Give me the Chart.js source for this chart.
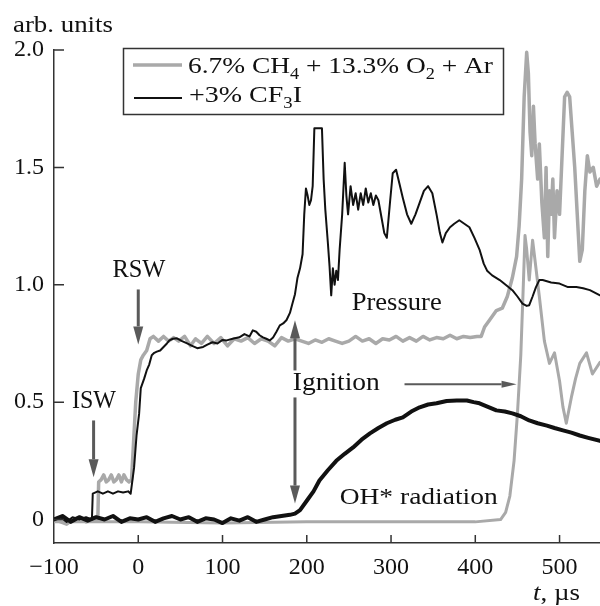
<!DOCTYPE html>
<html>
<head>
<meta charset="utf-8">
<script src="https://cdn.jsdelivr.net/npm/chart.js@4.4.1/dist/chart.umd.min.js"></script>
<style>
  html, body { margin: 0; padding: 0; background: #fff; }
  #chart { display: block; }
</style>
</head>
<body>
<canvas id="chart" width="600" height="606"></canvas>
<script>
// axis ticks
var timeTicks = [-100, 0, 100, 200, 300, 400, 500];
var valueTicks = [0, 0.5, 1.0, 1.5, 2.0];

// pressure, 6.7% CH4 + 13.3% O2 + Ar
var grayPressureT = [-100, -92, -85, -78, -70, -62, -55, -48, -47, -44,
    -41, -38, -35, -32, -29, -26, -23, -20, -17, -14,
    -11, -8, -6, -3, 0, 3, 6, 10, 14, 18,
    24, 30, 36, 42, 48, 55, 62, 68, 75, 82,
    90, 98, 106, 114, 122, 130, 138, 146, 154, 162,
    170, 178, 186, 194, 202, 210, 218, 226, 234, 242,
    250, 258, 266, 274, 282, 290, 298, 306, 314, 322,
    330, 338, 346, 354, 362, 370, 378, 386, 394, 402,
    407, 411, 417, 425, 432, 438, 444, 449, 452, 455,
    458, 461, 463, 465, 467, 469, 471, 474, 476, 479,
    482, 484, 486, 488, 490, 492, 494, 497, 500, 503,
    506, 509, 512, 515, 518, 521, 524, 527, 530, 533,
    536, 540, 544, 548];
var grayPressureV = [0.00, -0.01, -0.02, 0.00, 0.01, -0.01, 0.00, 0.00, 0.16, 0.17,
    0.19, 0.16, 0.17, 0.19, 0.16, 0.17, 0.19, 0.16, 0.19, 0.17,
    0.16, 0.17, 0.30, 0.50, 0.62, 0.68, 0.70, 0.72, 0.77, 0.78,
    0.76, 0.78, 0.76, 0.775, 0.76, 0.78, 0.74, 0.77, 0.75, 0.78,
    0.75, 0.775, 0.74, 0.77, 0.76, 0.775, 0.75, 0.77, 0.76, 0.74,
    0.775, 0.76, 0.77, 0.76, 0.75, 0.765, 0.755, 0.77, 0.76, 0.75,
    0.76, 0.78, 0.76, 0.77, 0.75, 0.77, 0.765, 0.78, 0.76, 0.775,
    0.76, 0.78, 0.765, 0.775, 0.77, 0.785, 0.77, 0.78, 0.775, 0.78,
    0.78, 0.82, 0.85, 0.89, 0.90, 0.95, 1.03, 1.12, 1.25, 1.45,
    1.80, 1.99, 1.90, 1.65, 1.55, 1.76, 1.60, 1.45, 1.60, 1.35,
    1.20, 1.50, 1.12, 1.40, 1.30, 1.45, 1.20, 1.40, 1.30, 1.55,
    1.80, 1.82, 1.80, 1.65, 1.50, 1.30, 1.10, 1.15, 1.40, 1.55,
    1.48, 1.50, 1.42, 1.45];

// pressure, +3% CF3I
var blackPressureT = [-100, -92, -85, -78, -70, -62, -55, -54, -48, -42,
    -36, -30, -24, -18, -12, -9, -5, -2, 1, 3,
    7, 10, 13, 16, 19, 22, 26, 30, 34, 37,
    41, 46, 52, 58, 64, 70, 77, 82, 88, 94,
    100, 105, 112, 120, 126, 132, 136, 140, 144, 148,
    152, 156, 160, 164, 168, 172, 176, 180, 183, 186,
    189, 192, 195, 197, 199, 201, 203, 205, 207, 209,
    213, 218, 220, 222, 225, 227, 229, 231, 233, 235,
    237, 239, 242, 245, 247, 249, 252, 255, 258, 261,
    264, 267, 270, 273, 276, 279, 282, 285, 289, 292,
    295, 299, 302, 306, 310, 314, 319, 324, 329, 334,
    339, 344, 349, 354, 358, 361, 365, 370, 375, 381,
    387, 393, 399, 405, 410, 414, 420, 429, 436, 444,
    450, 456, 461, 464, 468, 472, 476, 480, 490, 500,
    510, 520, 528, 536, 548];
var blackPressureV = [0.00, 0.01, -0.01, 0.01, 0.00, 0.01, 0.00, 0.11, 0.12, 0.11,
    0.12, 0.11, 0.12, 0.115, 0.12, 0.11, 0.22, 0.36, 0.45, 0.56,
    0.60, 0.635, 0.66, 0.70, 0.71, 0.715, 0.72, 0.735, 0.75, 0.763,
    0.77, 0.772, 0.76, 0.75, 0.74, 0.73, 0.735, 0.745, 0.755, 0.75,
    0.765, 0.763, 0.77, 0.776, 0.79, 0.78, 0.806, 0.80, 0.785, 0.776,
    0.77, 0.763, 0.775, 0.80, 0.827, 0.835, 0.85, 0.88, 0.92, 0.96,
    1.03, 1.07, 1.13, 1.30, 1.41, 1.38, 1.34, 1.36, 1.42, 1.667,
    1.667, 1.667, 1.45, 1.32, 1.18, 1.08, 0.955, 1.07, 1.00, 1.06,
    1.02, 1.15, 1.30, 1.52, 1.38, 1.30, 1.42, 1.34, 1.39, 1.32,
    1.39, 1.34, 1.41, 1.35, 1.39, 1.34, 1.38, 1.36, 1.28, 1.22,
    1.20, 1.36, 1.475, 1.49, 1.43, 1.37, 1.30, 1.26, 1.30, 1.35,
    1.40, 1.42, 1.39, 1.30, 1.22, 1.18, 1.22, 1.245, 1.26, 1.275,
    1.26, 1.245, 1.20, 1.15, 1.09, 1.06, 1.04, 1.02, 1.00, 0.977,
    0.95, 0.92, 0.91, 0.913, 0.95, 0.99, 1.02, 1.02, 1.01, 1.005,
    0.99, 0.99, 0.985, 0.977, 0.955];

// OH* radiation, 6.7% CH4 + 13.3% O2 + Ar
var grayOhT = [-100, 0, 100, 200, 300, 400, 430, 436, 441, 446,
    450, 454, 457, 459, 461, 464, 468, 471, 476, 482,
    488, 494, 500, 504, 508, 514, 519, 524, 532, 539,
    548];
var grayOhV = [-0.01, -0.01, -0.015, -0.01, -0.01, -0.01, 0.0, 0.03, 0.10, 0.25,
    0.45, 0.70, 1.00, 1.21, 1.15, 1.02, 1.19, 1.10, 0.95, 0.76,
    0.665, 0.71, 0.59, 0.48, 0.41, 0.52, 0.60, 0.665, 0.71, 0.62,
    0.67];

// OH* radiation, +3% CF3I
var blackOhT = [-100, -90, -80, -70, -60, -50, -40, -30, -20, -10,
    0, 10, 20, 30, 40, 50, 60, 70, 80, 90,
    100, 110, 120, 130, 140, 150, 160, 170, 180, 186,
    192, 200, 208, 215, 225, 235, 245, 255, 265, 275,
    285, 295, 305, 314, 324, 334, 344, 354, 366, 378,
    390, 398, 405, 415, 425, 435, 444, 454, 464, 474,
    485, 494, 504, 514, 524, 534, 548];
var blackOhV = [0.0, 0.015, -0.01, 0.01, -0.005, 0.01, 0.0, 0.015, -0.01, 0.005,
    0.0, 0.01, -0.01, 0.005, 0.015, 0.0, 0.01, -0.01, 0.005, 0.0,
    -0.015, 0.005, -0.005, 0.01, -0.01, 0.0, 0.01, 0.015, 0.02, 0.025,
    0.04, 0.08, 0.12, 0.166, 0.21, 0.25, 0.28, 0.307, 0.34, 0.367,
    0.39, 0.41, 0.425, 0.435, 0.46, 0.478, 0.49, 0.495, 0.505, 0.507,
    0.507, 0.50, 0.495, 0.48, 0.465, 0.46, 0.452, 0.44, 0.422, 0.41,
    0.40, 0.39, 0.38, 0.37, 0.358, 0.348, 0.335];

var SERIF = '"Liberation Serif", "Times New Roman", Times, serif';
var GRAY = '#a9a9a9';
var BLACK = '#111';
var ARROW = '#5a5a5a';

function zip(t, v) {
    return t.map(function (x, i) { return { x: x, y: v[i] }; });
}

// draw text runs [text, sub?, italic?] stretched to a given width
function wideText(ctx, runs, x, y, size, width, align) {
    ctx.save();
    var font = function (r) {
        return (r[2] ? 'italic ' : '') + (r[1] ? Math.round(size * 0.68) : size) + 'px ' + SERIF;
    };
    var natural = 0;
    runs.forEach(function (r) { ctx.font = font(r); natural += ctx.measureText(r[0]).width; });
    var k = width ? width / natural : 1;
    var x0 = align === 'center' ? x - natural * k / 2 : x;
    ctx.translate(x0, y);
    ctx.scale(k, 1);
    ctx.fillStyle = BLACK;
    ctx.textBaseline = 'alphabetic';
    var cx = 0;
    runs.forEach(function (r) {
        ctx.font = font(r);
        ctx.fillText(r[0], cx, r[1] ? size * 0.25 : 0);
        cx += ctx.measureText(r[0]).width;
    });
    ctx.restore();
}

function arrow(ctx, x1, y1, x2, y2, shaft, headLen, headW) {
    var a = Math.atan2(y2 - y1, x2 - x1);
    var bx = x2 - headLen * Math.cos(a), by = y2 - headLen * Math.sin(a);
    ctx.strokeStyle = ARROW;
    ctx.fillStyle = ARROW;
    ctx.lineWidth = shaft;
    ctx.beginPath();
    ctx.moveTo(x1, y1);
    ctx.lineTo(bx, by);
    ctx.stroke();
    ctx.beginPath();
    ctx.moveTo(x2, y2);
    ctx.lineTo(bx + headW / 2 * Math.sin(a), by - headW / 2 * Math.cos(a));
    ctx.lineTo(bx - headW / 2 * Math.sin(a), by + headW / 2 * Math.cos(a));
    ctx.closePath();
    ctx.fill();
}

// labels and arrows placed in data units
var notes = {
    rsw: { x: 0.8, y: 1.032 },
    rswArrow: { x: 0, y1: 0.98, y2: 0.746 },
    isw: { x: -52.6, y: 0.473 },
    iswArrow: { x: -53, y1: 0.422, y2: 0.18 },
    ignUp: { x: 186, y1: 0.635, y2: 0.849 },
    ignDown: { x: 186, y1: 0.52, y2: 0.068 },
    ignition: { x: 183.4, y: 0.55 },
    ignArrow: { y: 0.576, x1: 316, x2: 449 },
    pressure: { x: 306.7, y: 0.891 },
    oh: { x: 332.8, y: 0.064 }
};

var decorPlugin = {
    id: 'decor',
    afterDraw: function (chart) {
        var ctx = chart.ctx;
        var a = chart.chartArea;
        var sx = chart.scales.x, sy = chart.scales.y;
        var X = function (v) { return sx.getPixelForValue(v); };
        var Y = function (v) { return sy.getPixelForValue(v); };

        ctx.save();
        // inward tick marks
        ctx.strokeStyle = '#333';
        ctx.lineWidth = 1.5;
        ctx.beginPath();
        valueTicks.forEach(function (v) {
            ctx.moveTo(a.left, Y(v));
            ctx.lineTo(a.left + 10, Y(v));
        });
        timeTicks.forEach(function (v) {
            if (v === timeTicks[0]) return;
            ctx.moveTo(X(v), a.bottom);
            ctx.lineTo(X(v), a.bottom - 8);
        });
        ctx.stroke();

        // arrows
        arrow(ctx, X(notes.rswArrow.x), Y(notes.rswArrow.y1), X(notes.rswArrow.x), Y(notes.rswArrow.y2), 3, 18, 10);
        arrow(ctx, X(notes.iswArrow.x), Y(notes.iswArrow.y1), X(notes.iswArrow.x), Y(notes.iswArrow.y2), 3, 18, 10);
        arrow(ctx, X(notes.ignUp.x), Y(notes.ignUp.y1), X(notes.ignUp.x), Y(notes.ignUp.y2), 3, 18, 10);
        arrow(ctx, X(notes.ignDown.x), Y(notes.ignDown.y1), X(notes.ignDown.x), Y(notes.ignDown.y2), 3, 18, 10);
        arrow(ctx, X(notes.ignArrow.x1), Y(notes.ignArrow.y), X(notes.ignArrow.x2), Y(notes.ignArrow.y), 2, 15, 7);

        // annotations
        wideText(ctx, [['RSW']], X(notes.rsw.x), Y(notes.rsw.y), 25, 53, 'center');
        wideText(ctx, [['ISW']], X(notes.isw.x), Y(notes.isw.y), 25, 44, 'center');
        wideText(ctx, [['Ignition']], X(notes.ignition.x), Y(notes.ignition.y), 25, 87, 'left');
        wideText(ctx, [['Pressure']], X(notes.pressure.x), Y(notes.pressure.y), 25, 90, 'center');
        wideText(ctx, [['OH* radiation']], X(notes.oh.x), Y(notes.oh.y), 24, 158, 'center');

        // axis titles
        wideText(ctx, [['arb. units']], 13, 32, 23, 100, 'left');
        wideText(ctx, [['t', false, true], [', µs']], 533, 600, 23, 47, 'left');

        // legend
        var lx = a.left + 69, ly = a.top - 2;
        ctx.strokeStyle = '#333';
        ctx.lineWidth = 1.5;
        ctx.strokeRect(lx + 0.5, ly + 0.5, 380, 66);
        ctx.lineWidth = 3.5;
        ctx.strokeStyle = GRAY;
        ctx.beginPath();
        ctx.moveTo(lx + 10, ly + 17);
        ctx.lineTo(lx + 59, ly + 17);
        ctx.stroke();
        ctx.lineWidth = 2;
        ctx.strokeStyle = BLACK;
        ctx.beginPath();
        ctx.moveTo(lx + 11, ly + 50);
        ctx.lineTo(lx + 59, ly + 50);
        ctx.stroke();
        wideText(ctx, [['6.7% CH'], ['4', true], [' + 13.3% O'], ['2', true], [' + Ar']], lx + 65, ly + 25, 24, 305, 'left');
        wideText(ctx, [['+3% CF'], ['3', true], ['I']], lx + 66, ly + 54, 24, 113, 'left');
        ctx.restore();
    }
};

var tickFont = { family: SERIF, size: 24 };

new Chart(document.getElementById('chart'), {
    type: 'line',
    data: {
        datasets: [
            { label: 'OH* +3% CF3I', data: zip(blackOhT, blackOhV), borderColor: BLACK, borderWidth: 4, order: 1 },
            { label: 'P +3% CF3I', data: zip(blackPressureT, blackPressureV), borderColor: BLACK, borderWidth: 2, order: 2 },
            { label: 'OH* 6.7% CH4 + 13.3% O2 + Ar', data: zip(grayOhT, grayOhV), borderColor: GRAY, borderWidth: 3, order: 3 },
            { label: 'P 6.7% CH4 + 13.3% O2 + Ar', data: zip(grayPressureT, grayPressureV), borderColor: GRAY, borderWidth: 3.5, order: 4 }
        ]
    },
    options: {
        responsive: false,
        animation: false,
        events: [],
        elements: {
            point: { radius: 0 },
            line: { tension: 0, borderJoinStyle: 'round', borderCapStyle: 'round' }
        },
        layout: { padding: { top: 50, left: 0, right: 0, bottom: 0 } },
        plugins: { legend: { display: false }, tooltip: { enabled: false } },
        scales: {
            x: {
                type: 'linear',
                min: -100,
                max: 548,
                afterBuildTicks: function (s) { s.ticks = timeTicks.map(function (v) { return { value: v }; }); },
                afterFit: function (s) { s.height = 63; },
                grid: { display: false, drawTicks: false },
                border: { display: true, color: '#333', width: 1.5 },
                ticks: {
                    font: tickFont,
                    color: BLACK,
                    padding: 10,
                    maxRotation: 0,
                    callback: function (v) { return v < 0 ? '\u2212' + Math.abs(v) : String(v); }
                }
            },
            y: {
                min: -0.1,
                max: 2.0,
                afterBuildTicks: function (s) { s.ticks = valueTicks.map(function (v) { return { value: v }; }); },
                afterFit: function (s) { s.width = 54; },
                grid: { display: false, drawTicks: false },
                border: { display: true, color: '#333', width: 1.5 },
                ticks: {
                    font: tickFont,
                    color: BLACK,
                    padding: 10,
                    callback: function (v) { return v === 0 ? '0' : v.toFixed(1); }
                }
            }
        }
    },
    plugins: [decorPlugin]
});
</script>
</body>
</html>
